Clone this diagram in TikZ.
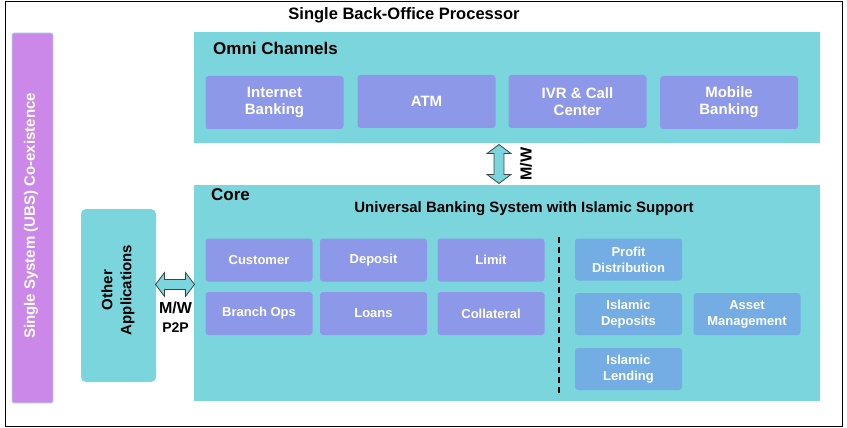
\documentclass[tikz,border=0pt]{standalone}
\usepackage{fontspec}
\setmainfont{Liberation Sans}
\usetikzlibrary{shapes.arrows,calc}
\definecolor{tealbg}{RGB}{122,214,220}
\definecolor{peri}{RGB}{142,152,232}
\definecolor{islblue}{RGB}{116,172,228}
\definecolor{purp}{RGB}{204,136,232}
\definecolor{arrline}{RGB}{60,70,70}
\tikzset{
  panel/.style={fill=tealbg, draw=none, inner sep=0pt},
  modbox/.style={fill=peri, draw=none, rounded corners=3pt, inner sep=0pt,
    text=white, font=\bfseries\fontsize{13}{16}\selectfont, align=center,
    minimum width=107pt, minimum height=43pt},
  chanbox/.style={modbox, font=\bfseries\fontsize{15}{17}\selectfont,
    minimum width=138pt, minimum height=53pt},
  islbox/.style={modbox, fill=islblue, minimum height=42pt},
  dblarrow/.style={double arrow, fill=tealbg, draw=arrline, line width=0.8pt,
    inner xsep=0pt, inner ysep=4.5pt, minimum height=39pt, minimum width=24pt,
    double arrow head extend=7pt, double arrow tip angle=106},
  lbl/.style={font=\bfseries\fontsize{#1}{#1}\selectfont, inner sep=0pt},
}
\begin{document}
\begin{tikzpicture}[x=1pt,y=-1pt]
\useasboundingbox (0,0) rectangle (847,428);
\draw[black, line width=1pt] (5,2) rectangle (842,426);
\node[lbl=16.5] (title) at (404,15) {Single Back-Office Processor};
% side bar
\node[fill=purp, draw=tealbg!70!white, line width=0.8pt, rounded corners=2pt,
  minimum width=41pt, minimum height=370pt, inner sep=0pt] (ubs) at (32.5,218) {};
\node[lbl=15, text=white, rotate=90] (ubstxt) at (31,216) {Single System (UBS) Co-existence};
% omni
\node[panel, minimum width=626pt, minimum height=111pt] (omni) at (507,87.5) {};
\node[lbl=17, anchor=west] (omnit) at (213,48) {Omni Channels};
\node[chanbox] (inet) at (274.5,102.5) {Internet\\Banking};
\node[chanbox] (atm) at (426.5,101.5) {ATM};
\node[chanbox] (ivr) at (577.5,101.5) {IVR \& Call\\Center};
\node[chanbox] (mob) at (729,102.5) {Mobile\\Banking};
% core
\node[panel, minimum width=626pt, minimum height=216pt] (core) at (507,293) {};
\node[lbl=17, anchor=west] (coret) at (211,195) {Core};
\node[lbl=15] (ubst) at (524,209) {Universal Banking System with Islamic Support};
\node[modbox] (cust) at (259,260) {Customer};
\node[modbox] (dep) at (373.5,260) {Deposit};
\node[modbox] (lim) at (491,260) {Limit};
\node[modbox] (br) at (259,313.5) {Branch Ops};
\node[modbox] (loan) at (373.5,313.5) {Loans};
\node[modbox] (coll) at (491,313.5) {Collateral};
\coordinate (dtop) at (559,237);
\coordinate (dbot) at (559,395);
\draw[black, line width=2pt, dash pattern=on 6pt off 4pt] (dtop) -- (dbot);
\node[islbox] (prof) at (628.5,259.5) {Profit\\Distribution};
\node[islbox] (idep) at (628.5,314) {Islamic\\Deposits};
\node[islbox] (asset) at (747,314) {Asset\\Management};
\node[islbox] (ilend) at (628.5,369) {Islamic\\Lending};
% other apps
\node[panel, rounded corners=5pt, minimum width=75pt, minimum height=173pt] (other) at (118.5,295.5) {};
\node[lbl=15, rotate=90, align=center, font=\bfseries\fontsize{15}{19}\selectfont] (othert) at (118,290) {Other\\Applications};
% arrows
\node[dblarrow, rotate=90] (arrv) at ($(omni.south)!0.5!(core.north)+(-8,0)$) {};
\node[lbl=16, rotate=90] (mwv) at (526,164) {M/W};
\node[dblarrow] (arrh) at ($(other.east|-0,284.5)!0.5!(core.west|-0,284.5)$) {};
\node[lbl=16] (mwh) at (175.5,308) {M/W};
\node[lbl=14] (p2p) at (175.5,328) {P2P};
\end{tikzpicture}
\end{document}
